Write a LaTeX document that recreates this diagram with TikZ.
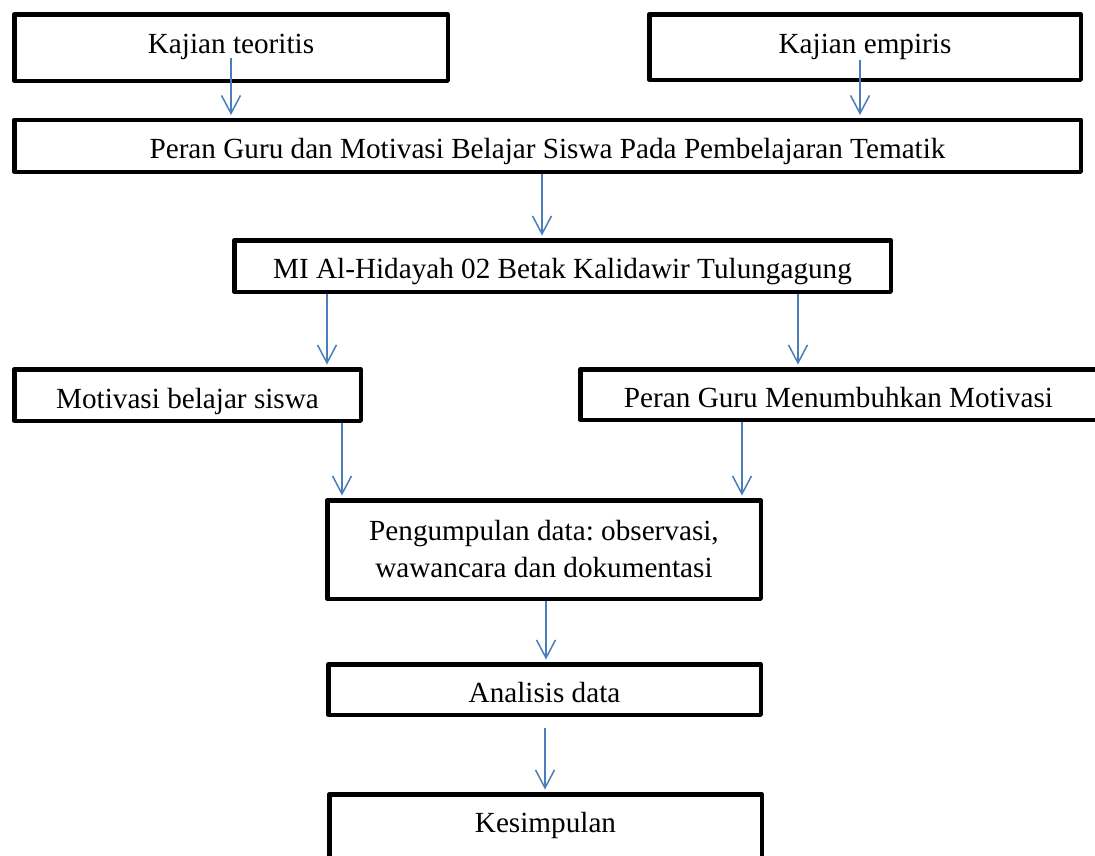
\documentclass[tikz,border=0pt]{standalone}
\usepackage{fontspec}
\setmainfont{Liberation Serif}
\usetikzlibrary{arrows.meta}
\definecolor{arrblue}{RGB}{74,126,187}
\frenchspacing
\begin{document}
\begin{tikzpicture}[x=1pt,y=-1pt,
  box/.style={draw=black, line width=4.5pt, line join=round, rectangle, inner sep=0pt,
    align=center, font=\fontsize{29.2}{37}\selectfont},
  arr/.style={draw=arrblue, line width=1.5pt, -{Straight Barb[length=18pt,width=19pt]}, shorten >=2.5pt}]
\useasboundingbox (0,0) rectangle (1095,855);
\clip (0,0) rectangle (1095,855);
% boxes
\node[box, minimum width=433.5pt, minimum height=66.5pt, text height=20pt, text depth=9pt] (k1) at (231,47.5) {Kajian teoritis};
\node[box, minimum width=431.5pt, minimum height=65.5pt, text height=20pt, text depth=8pt] (k2) at (865,47) {Kajian empiris};
\node[box, minimum width=1066.5pt, minimum height=52pt, text height=31pt, text depth=6pt] (p) at (547.5,145.75) {Peran Guru dan Motivasi Belajar Siswa Pada Pembelajaran Tematik};
\node[box, minimum width=656.5pt, minimum height=51.5pt, text height=30pt, text depth=6pt] (m) at (562.5,266) {MI Al-Hidayah 02 Betak Kalidawir Tulungagung};
\node[box, minimum width=346.5pt, minimum height=51.5pt, text height=32pt, text depth=6pt] (mb) at (187.5,395) {Motivasi belajar siswa};
\node[box, minimum width=516.5pt, minimum height=50.5pt, text height=31pt, text depth=6pt] (pg) at (838.5,394.5) {Peran Guru Menumbuhkan Motivasi};
\node[box, minimum width=433.5pt, minimum height=98.5pt] (pd) at (544,549.5) {Pengumpulan data: observasi,\\wawancara dan dokumentasi};
\node[box, minimum width=432.5pt, minimum height=50.5pt, text height=31pt, text depth=6pt] (an) at (544.5,689.5) {Analisis data};
\node[box, minimum width=432.5pt, minimum height=73.5pt, text height=20pt, text depth=18pt] (ks) at (545.5,831) {Kesimpulan};
% arrow start points
\coordinate (s1) at ([yshift=-10.5pt]k1.center);
\coordinate (s2) at ([xshift=-5pt,yshift=-13pt]k2.center);
\coordinate (s3) at ([xshift=-5.5pt]p.south);
\coordinate (s4) at ([xshift=-235.5pt]m.south);
\coordinate (s5) at ([xshift=235.5pt]m.south);
\coordinate (s6) at ([xshift=154.5pt]mb.south);
\coordinate (s7) at ([xshift=-96.5pt]pg.south);
\coordinate (s8) at ([xshift=2pt]pd.south);
\coordinate (s9) at ([xshift=0.5pt,yshift=-11.25pt]an.south);
% arrows
\draw[arr] (s1) -- (s1 |- p.north);
\draw[arr] (s2) -- (s2 |- p.north);
\draw[arr] (s3) -- (s3 |- m.north);
\draw[arr] (s4) -- (s4 |- mb.north);
\draw[arr] (s5) -- (s5 |- pg.north);
\draw[arr] (s6) -- (s6 |- pd.north);
\draw[arr] (s7) -- (s7 |- pd.north);
\draw[arr] (s8) -- (s8 |- an.north);
\draw[arr] (s9) -- (s9 |- ks.north);
\end{tikzpicture}
\end{document}
